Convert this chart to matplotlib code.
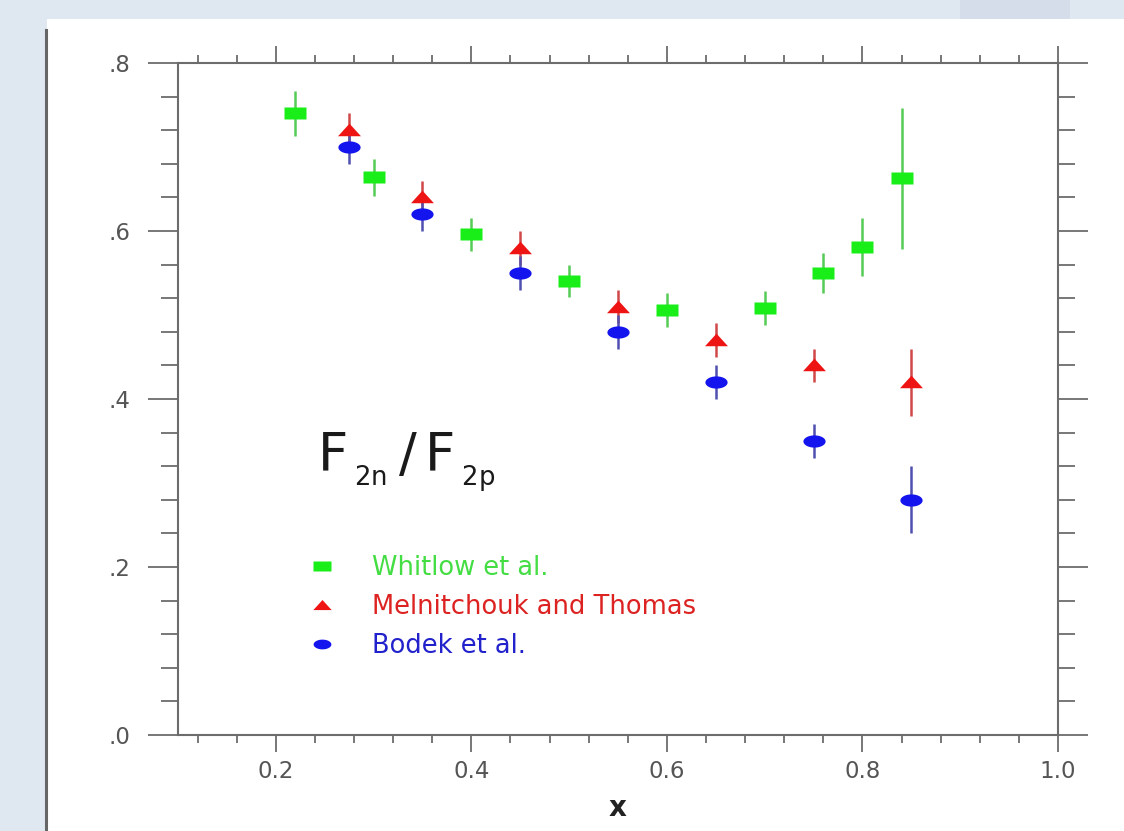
import numpy as np
import matplotlib
matplotlib.use("Agg")
import matplotlib.pyplot as plt
from matplotlib.path import Path
from matplotlib.patches import Rectangle
from matplotlib.lines import Line2D
from matplotlib.ticker import MultipleLocator, FuncFormatter

# data
whitlow_x = [0.22, 0.30, 0.40, 0.50, 0.60, 0.70, 0.76, 0.80, 0.84]
whitlow_y = [0.740, 0.664, 0.596, 0.540, 0.506, 0.508, 0.550, 0.581, 0.663]
whitlow_err = [0.027, 0.022, 0.020, 0.019, 0.020, 0.020, 0.024, 0.035, 0.084]

melnit_x = [0.275, 0.35, 0.45, 0.55, 0.65, 0.75, 0.85]
melnit_y = [0.720, 0.640, 0.580, 0.510, 0.470, 0.440, 0.420]
melnit_err = [0.02, 0.02, 0.02, 0.02, 0.02, 0.02, 0.04]

bodek_x = [0.275, 0.35, 0.45, 0.55, 0.65, 0.75, 0.85]
bodek_y = [0.700, 0.620, 0.550, 0.480, 0.420, 0.350, 0.280]
bodek_err = [0.02, 0.02, 0.02, 0.02, 0.02, 0.02, 0.04]

labels = ["Whitlow et al.", "Melnitchouk and Thomas", "Bodek et al."]

# squashed markers (wide and flat like in the original)
rect_m = Path([(-1, -0.55), (1, -0.55), (1, 0.55), (-1, 0.55), (-1, -0.55)],
              [Path.MOVETO, Path.LINETO, Path.LINETO, Path.LINETO, Path.CLOSEPOLY])
tri_m = Path([(-1, -0.5), (1, -0.5), (0, 0.6), (-1, -0.5)],
             [Path.MOVETO, Path.LINETO, Path.LINETO, Path.CLOSEPOLY])
t = np.linspace(0, 2 * np.pi, 40)
ell_m = Path(np.column_stack([np.cos(t), 0.55 * np.sin(t)]))

fig = plt.figure(figsize=(11.24, 8.31), dpi=100, facecolor="#dfe7f1")

# white slide panel with a little shadow on the left
fig.patches.append(Rectangle((960 / 1124, 0), 110 / 1124, 1, transform=fig.transFigure,
                             facecolor="#d4dde9", edgecolor="none", zorder=-3))
fig.patches.append(Rectangle((47 / 1124, 0), 1, (831 - 19) / 831, transform=fig.transFigure,
                             facecolor="white", edgecolor="none", zorder=-2))
fig.lines.append(Line2D([46 / 1124, 46 / 1124], [0, (831 - 30) / 831], transform=fig.transFigure,
                        color="#666666", lw=2.2, zorder=-1))

ax = fig.add_axes([178 / 1124, 96 / 831, 880 / 1124, 672 / 831])

# error bars first, markers on top
ax.errorbar(whitlow_x, whitlow_y, yerr=whitlow_err, fmt="none", ecolor="#55cc55", elinewidth=1.8, capsize=0, zorder=2)
ax.errorbar(melnit_x, melnit_y, yerr=melnit_err, fmt="none", ecolor="#d04848", elinewidth=1.8, capsize=0, zorder=2)
ax.errorbar(bodek_x, bodek_y, yerr=bodek_err, fmt="none", ecolor="#5050b0", elinewidth=1.8, capsize=0, zorder=2)

ax.plot(whitlow_x, whitlow_y, ls="none", marker=rect_m, ms=16, color="#19ee19", mec="none", label=labels[0], zorder=3)
ax.plot(melnit_x, melnit_y, ls="none", marker=tri_m, ms=16.5, color="#ee1414", mec="none", label=labels[1], zorder=3)
ax.plot(bodek_x, bodek_y, ls="none", marker=ell_m, ms=16, color="#1414ee", mec="none", label=labels[2], zorder=4)

ax.set_xlim(0.1, 1.0)
ax.set_ylim(0.0, 0.8)

axis_col = "#6c6c6c"
for sp in ax.spines.values():
    sp.set_color(axis_col)
    sp.set_linewidth(1.5)

ax.xaxis.set_major_locator(MultipleLocator(0.2))
ax.xaxis.set_minor_locator(MultipleLocator(0.04))
ax.yaxis.set_major_locator(MultipleLocator(0.2))
ax.yaxis.set_minor_locator(MultipleLocator(0.04))
ax.xaxis.set_major_formatter(FuncFormatter(lambda v, p: f"{v:.1f}"))
ax.yaxis.set_major_formatter(FuncFormatter(lambda v, p: f"{v:.1f}".lstrip("0")))

ax.tick_params(which="both", direction="out", top=True, right=True, color=axis_col, width=1.3,
               labelcolor="#555555", labelsize=16.5)
ax.tick_params(axis="x", which="major", length=12, pad=6)
ax.tick_params(axis="x", which="minor", length=6)
ax.tick_params(axis="y", which="major", length=21.5, pad=13)
ax.tick_params(axis="y", which="minor", length=12)

ax.set_xlabel("x", fontsize=20, fontweight="bold", color="#222222", labelpad=8)

ax.text(0.158, 0.405, r"$\mathregular{F_{\,{}_{2n}}\,/\,F_{\,{}_{2p}}}$", transform=ax.transAxes,
        fontsize=38, color="#1a1a1a", ha="left", va="center")

leg = ax.legend(loc="upper left", bbox_to_anchor=(0.152, 0.268), frameon=False, fontsize=18.5,
                handlelength=0.8, handletextpad=1.55, labelspacing=0.5, borderpad=0, borderaxespad=0,
                markerscale=0.8)
for txt, col in zip(leg.get_texts(), ["#44dd44", "#dd2222", "#2222cc"]):
    txt.set_color(col)

fig.savefig("out.png", dpi=100, facecolor=fig.get_facecolor())
